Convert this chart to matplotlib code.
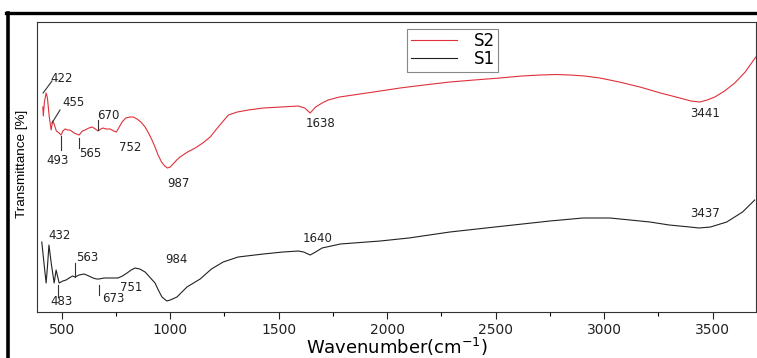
import numpy as np
import matplotlib
matplotlib.use('Agg')
import matplotlib.pyplot as plt
from matplotlib.lines import Line2D

#-----------------------------------------------------------------------------------------------------------------------
# FTIR spectra (wavenumber, relative transmittance, arbitrary units)
#-----------------------------------------------------------------------------------------------------------------------
s2_wn = [413, 415, 420, 428, 434, 442, 451, 458, 465, 475, 488, 497, 505, 515, 527, 538, 557, 580, 595, 607,
         625, 640, 655, 667, 680, 690, 705, 723, 740, 752, 765, 778, 795, 815, 830, 847, 865, 884, 900, 916,
         930, 944, 960, 975, 987, 1000, 1013, 1030, 1045, 1080, 1115, 1150, 1184, 1225, 1268, 1309, 1360,
         1429, 1510, 1590, 1620, 1645, 1670, 1700, 1728, 1780, 1843, 1968, 2059, 2170, 2289, 2400, 2520,
         2620, 2704, 2780, 2843, 2910, 2981, 3070, 3165, 3260, 3349, 3400, 3441, 3475, 3510, 3555, 3602,
         3650, 3699]
s2_t = [205, 196, 210, 219, 214, 196, 182, 191, 188, 181, 179, 177, 181, 183, 182, 182, 179, 177, 181, 182,
        184, 185, 183, 181, 183, 184, 183, 183, 181, 180, 185, 190, 194, 195, 195, 193, 190, 185, 179, 172,
        165, 157, 150, 146, 144, 145, 148, 152, 155, 160, 164, 169, 175, 186, 197, 200, 202,
        204, 205, 206, 204, 199, 205, 209, 212, 215, 217, 221, 224, 227, 230, 232, 234,
        236, 237, 237.5, 237, 236, 234, 230, 225, 219, 214, 211, 210, 212, 215, 221, 229,
        240, 255]

s1_wn = [408, 420, 428, 434, 441, 452, 465, 474, 488, 505, 520, 534, 550, 561, 580, 603, 625, 644, 660, 672,
         695, 723, 740, 759, 780, 801, 820, 838, 860, 884, 905, 930, 945, 962, 984, 1000, 1031, 1077, 1138,
         1190, 1244, 1313, 1429, 1520, 1590, 1615, 1645, 1670, 1700, 1784, 1968, 2100, 2289, 2497, 2750,
         2902, 3027, 3120, 3211, 3300, 3395, 3437, 3490, 3565, 3638, 3694]
s1_t = [70, 45, 29, 45, 67, 48, 29, 42, 29, 31, 32, 34, 36, 35, 37, 38, 36, 34, 33, 33,
        34, 34, 34, 34, 36, 39, 42, 44, 43, 40, 35, 29, 22, 15, 11, 12, 15, 25, 33,
        43, 50, 55, 58, 60, 61, 60, 57, 60, 64, 68, 71, 74, 80, 85, 91,
        94, 94, 92, 90, 87, 85, 84, 85, 90, 100, 112]

# peak labels: text, text x, text y
s2_lab = ['422', '455', '493', '565', '670', '752', '987', '1638', '3441']
s2_lab_x = [498, 552, 483, 631, 714, 815, 1037, 1692, 3467]
s2_lab_y = [234, 210, 152, 159, 197, 165, 129, 189, 199]
s1_lab = ['432', '563', '483', '673', '751', '984', '1640', '3437']
s1_lab_x = [492, 617, 497, 737, 820, 1027, 1678, 3467]
s1_lab_y = [77, 55, 10, 13, 24, 53, 74, 99]

# short marker lines next to peaks: x0, y0, x1, y1
peak_marks = [
    (414, 219, 455, 231),   # 422 leader
    (455, 189, 492, 202),   # 455 leader
    (497, 176, 497, 162),   # 493
    (580, 174, 580, 164),   # 565
    (667, 192, 667, 182),   # 670
    (561, 49, 561, 35),     # 563
    (483, 27, 483, 15),     # 483
    (672, 27, 672, 17),     # 673
]

#-----------------------------------------------------------------------------------------------------------------------
fig = plt.figure(figsize=(7.57, 3.58), dpi=100)
ax = fig.add_axes([0.0489, 0.1285, 0.9498, 0.81])

l2, = ax.plot(s2_wn, s2_t, color='#e0303a', lw=0.8, label='S2')
l1, = ax.plot(s1_wn, s1_t, color='#222222', lw=0.8, label='S1')

for x0, y0, x1, y1 in peak_marks:
    ax.plot([x0, x1], [y0, y1], color='#333333', lw=0.8)

for t, x, y in zip(s2_lab, s2_lab_x, s2_lab_y):
    ax.text(x, y, t, ha='center', va='center', fontsize=8.5, color='#222222')
for t, x, y in zip(s1_lab, s1_lab_x, s1_lab_y):
    ax.text(x, y, t, ha='center', va='center', fontsize=8.5, color='#222222')

ax.set_xlim(386, 3700)
ax.set_ylim(0, 290)
ax.set_xticks([500, 1000, 1500, 2000, 2500, 3000, 3500])
ax.set_xticks(np.arange(750, 3700, 500), minor=True)
ax.tick_params(axis='x', direction='out', length=5, width=0.8, labelsize=10, pad=3, colors='#222222')
ax.tick_params(axis='x', which='minor', direction='out', length=3, width=0.8)
ax.set_yticks([])
for sp in ax.spines.values():
    sp.set_color('#333333')
    sp.set_linewidth(0.8)

ax.set_xlabel('Wavenumber(cm$^{-1}$)', fontsize=13, labelpad=-1)
ax.set_ylabel('Transmittance [%]', fontsize=9.7, family=['Liberation Sans', 'DejaVu Sans'])
ax.yaxis.set_label_coords(-0.013, 0.51)

leg = ax.legend(handles=[l2, l1], loc='upper left', bbox_to_anchor=(0.515, 0.976), fontsize=12,
                handlelength=2.8, labelspacing=0.0, borderpad=0.2, handletextpad=1.0,
                fancybox=False, framealpha=1, edgecolor='#888888', borderaxespad=0)
leg.get_frame().set_linewidth(0.8)

# thick black frame on top and left of the picture
fig.add_artist(Line2D([6 / 757, 756 / 757], [1 - 12.8 / 358] * 2, color='black', lw=2.4,
                      solid_capstyle='projecting'))
fig.add_artist(Line2D([7.8 / 757] * 2, [0, 1 - 12.8 / 358], color='black', lw=2.6,
                      solid_capstyle='projecting'))

fig.savefig('out.png', dpi=100)
